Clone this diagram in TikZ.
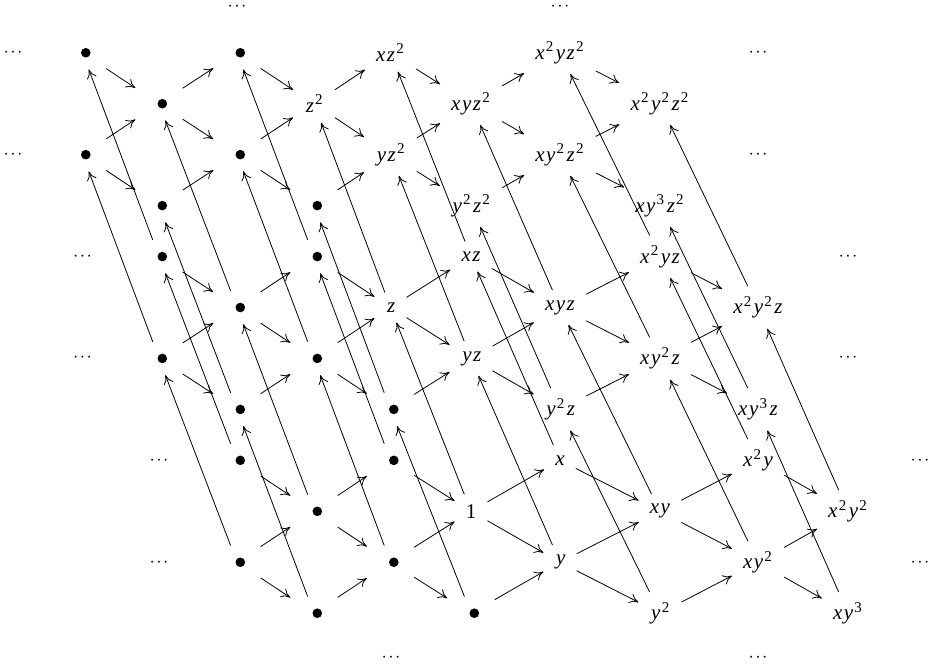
\documentclass[tikz,border=0pt]{standalone}
\usepackage{fontspec}
\setmainfont{Liberation Serif}
\usetikzlibrary{arrows.meta}
\newcommand\mysp[1]{\kern1.2pt\raisebox{7.5pt}{\fontsize{15}{15}\selectfont #1}\kern1pt}
\newcommand\vx{\textit{x}}
\newcommand\vy{\kern1.5pt\textit{y}}
\newcommand\vz{\kern1.5pt\textit{z}}
\newcommand\zpart{\ifcase\lay\relax\or\vz\or\vz\mysp{2}\fi}
\newcommand\onepart{\ifcase\lay\relax 1\fi}
\newcommand\mydots{\textperiodcentered\kern1.5pt\textperiodcentered\kern1.5pt\textperiodcentered}
\begin{document}
\begin{tikzpicture}[x=1pt,y=-1pt,
  lab/.style={inner xsep=11pt,inner ysep=10pt,font=\fontsize{21}{25}\selectfont},
  blt/.style={minimum width=47pt,minimum height=33pt,inner sep=0pt,
    path picture={\fill ([xshift=3.3pt]path picture bounding box.center) circle (4.8pt);}},
  dts/.style={inner sep=0pt,anchor=base,yshift=-4.5pt,font=\fontsize{16}{18}\selectfont},
  arr/.style={-{Computer Modern Rightarrow[length=9pt,width=10pt]},line width=0.8pt}]
\useasboundingbox (0,0) rectangle (928,667);
% nodes of the three layers (z^0, z^1, z^2)
\foreach \lay in {0,1,2}{
  \foreach \U/\V in {0/0,2/0,1/1,0/2,2/2,1/3,3/3}{
    \pgfmathtruncatemacro\ci{3+\U-\lay}
    \pgfmathsetmacro\xx{{13,82.5,159,237,314,390.5,471,560,660,758,848,922}[\ci]}
    \pgfmathsetmacro\yy{1.8+50.95*(9+\V-4*\lay)}
    \node[blt] (n\lay\U\V) at (\xx,\yy) {};
  }
  \foreach \U/\V/\t in {4/0/{\vx}, 6/0/{\vx\mysp{2}\vy}, 3/1/{\onepart},
      5/1/{\vx\vy}, 7/1/{\vx\mysp{2}\vy\mysp{2}}, 4/2/{\vy}, 6/2/{\vx\vy\mysp{2}},
      5/3/{\vy\mysp{2}}, 7/3/{\vx\vy\mysp{3}}}{
    \pgfmathtruncatemacro\ci{3+\U-\lay}
    \pgfmathsetmacro\xx{{13,82.5,159,237,314,390.5,471,560,660,758,848,922}[\ci]}
    \pgfmathsetmacro\yy{1.8+50.95*(9+\V-4*\lay)}
    \node[lab] (n\lay\U\V) at (\xx,\yy) {\t\zpart};
  }
}
% dots
\foreach \nm/\px/\py in {d1/237/7, d2/560/7, d3/13/52.7, d4/758/52.7, d5/13/154.6,
    d6/758/154.6, d7/82.5/256.6, d8/848/256.6, d9/82.5/358.3, d10/848/358.3,
    d11/159/461, d12/920/461, d13/159/562.5, d14/920/562.5, d15/391/658, d16/758/658}{
  \node[dts] (\nm) at (\px,\py) {\mydots};
}
% multiplication by x and y inside each layer
\foreach \lay in {0,1,2}{
  \foreach \a/\b in {11/20, 31/40, 51/60, 02/11, 22/31, 42/51, 62/71, 13/22, 33/42, 53/62,
      00/11, 20/31, 40/51, 60/71, 11/22, 31/42, 51/62, 02/13, 22/33, 42/53, 62/73}{
    \draw[arr] (n\lay\a) -- (n\lay\b);
  }
}
% multiplication by z between layers
\foreach \lay/\nx in {0/1,1/2}{
  \foreach \p in {00,20,11,02,22,13,33,40,60,31,51,71,42,62,53,73}{
    \draw[arr] (n\lay\p) -- (n\nx\p);
  }
}
\end{tikzpicture}
\end{document}
